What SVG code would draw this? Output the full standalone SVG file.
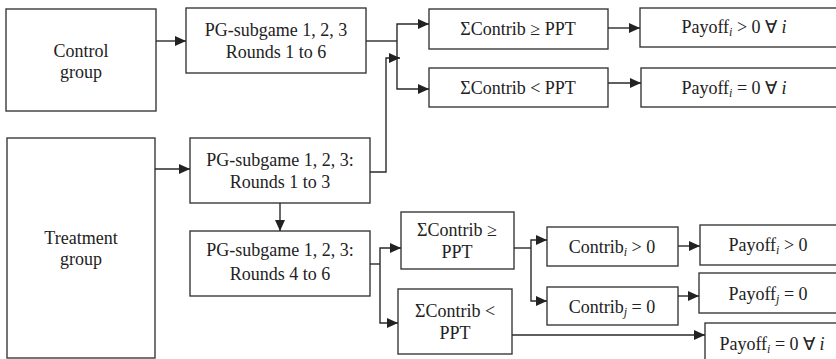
<svg xmlns="http://www.w3.org/2000/svg" width="836" height="359" viewBox="0 0 836 359">
<defs>
<marker id="arr" markerUnits="userSpaceOnUse" markerWidth="12" markerHeight="10" refX="11" refY="5" orient="auto">
<path d="M0,0 L11,5 L0,10 z" fill="#222"/>
</marker>
<style>
.box{fill:#fff;stroke:#3a3a3a;stroke-width:1.4}
.t{font-family:'Liberation Serif',serif;font-size:18px;fill:#222;text-anchor:middle}
.c{fill:none;stroke:#2a2a2a;stroke-width:1.4}
.s{font-size:12px;font-style:italic}
.i{font-style:italic}
</style>
</defs>
<rect width="836" height="359" fill="#fff"/>
<g id="control">
<rect class="box" x="6" y="9" width="150" height="102"/>
<text class="t" x="81" y="57">Control</text>
<text class="t" x="81" y="78">group</text>
</g>
<g id="treatment">
<rect class="box" x="7" y="138" width="148" height="220"/>
<text class="t" x="81" y="244">Treatment</text>
<text class="t" x="81" y="265">group</text>
</g>
<g id="pg-control">
<rect class="box" x="186" y="8" width="180" height="65"/>
<text class="t" x="276" y="36">PG-subgame 1, 2, 3</text>
<text class="t" x="276" y="58">Rounds 1 to 6</text>
</g>
<g id="pg-1-3">
<rect class="box" x="190" y="138" width="180" height="65"/>
<text class="t" x="280" y="166">PG-subgame 1, 2, 3:</text>
<text class="t" x="280" y="188">Rounds 1 to 3</text>
</g>
<g id="pg-4-6">
<rect class="box" x="190" y="231" width="180" height="65"/>
<text class="t" x="280" y="256">PG-subgame 1, 2, 3:</text>
<text class="t" x="280" y="280">Rounds 4 to 6</text>
</g>
<g id="sum-ge-top">
<rect class="box" x="429" y="9" width="179" height="40"/>
<text class="t" x="518" y="35">ΣContrib ≥ PPT</text>
</g>
<g id="sum-lt-top">
<rect class="box" x="429" y="68" width="179" height="39"/>
<text class="t" x="518" y="94">ΣContrib &lt; PPT</text>
</g>
<g id="payoff-gt-all">
<rect class="box" x="640" y="8" width="198" height="39"/>
<text class="t" x="734" y="33">Payoff<tspan class="s" dy="3">i</tspan><tspan dy="-3"> &gt; 0  ∀ </tspan><tspan class="i">i</tspan></text>
</g>
<g id="payoff-eq-all">
<rect class="box" x="641" y="68" width="197" height="39"/>
<text class="t" x="734" y="94">Payoff<tspan class="s" dy="3">i</tspan><tspan dy="-3"> = 0  ∀ </tspan><tspan class="i">i</tspan></text>
</g>
<g id="sum-ge-low">
<rect class="box" x="401" y="212" width="113" height="57"/>
<text class="t" x="457" y="236">ΣContrib ≥</text>
<text class="t" x="457" y="258">PPT</text>
</g>
<g id="sum-lt-low">
<rect class="box" x="398" y="289" width="114" height="65"/>
<text class="t" x="455" y="317">ΣContrib &lt;</text>
<text class="t" x="455" y="339">PPT</text>
</g>
<g id="contrib-i">
<rect class="box" x="547" y="227" width="131" height="39"/>
<text class="t" x="612" y="253">Contrib<tspan class="s" dy="3">i</tspan><tspan dy="-3"> &gt; 0</tspan></text>
</g>
<g id="contrib-j">
<rect class="box" x="547" y="287" width="131" height="38"/>
<text class="t" x="612" y="313">Contrib<tspan class="s" dy="3">j</tspan><tspan dy="-3"> = 0</tspan></text>
</g>
<g id="payoff-i-gt">
<rect class="box" x="700" y="225" width="140" height="40"/>
<text class="t" x="768" y="251">Payoff<tspan class="s" dy="3">i</tspan><tspan dy="-3"> &gt; 0</tspan></text>
</g>
<g id="payoff-j-eq">
<rect class="box" x="699" y="273" width="141" height="40"/>
<text class="t" x="768" y="300">Payoff<tspan class="s" dy="3">j</tspan><tspan dy="-3"> = 0</tspan></text>
</g>
<g id="payoff-eq-all-low">
<rect class="box" x="705" y="323" width="135" height="40"/>
<text class="t" x="772" y="350">Payoff<tspan class="s" dy="3">i</tspan><tspan dy="-3"> = 0 ∀ </tspan><tspan class="i">i</tspan></text>
</g>
<g id="connectors">
<path class="c" d="M156,41 H186" marker-end="url(#arr)"/>
<path class="c" d="M366,41 H397"/>
<path class="c" d="M397,41 V24 H429" marker-end="url(#arr)"/>
<path class="c" d="M397,41 V89 H429" marker-end="url(#arr)"/>
<path class="c" d="M155,169 H190" marker-end="url(#arr)"/>
<path class="c" d="M370,172 H386 V58 H400" marker-end="url(#arr)"/>
<path class="c" d="M280,203 V231" marker-end="url(#arr)"/>
<path class="c" d="M370,264 H380"/>
<path class="c" d="M380,264 V248 H401" marker-end="url(#arr)"/>
<path class="c" d="M380,264 V323 H398" marker-end="url(#arr)"/>
<path class="c" d="M608,28 H640" marker-end="url(#arr)"/>
<path class="c" d="M608,83 H641" marker-end="url(#arr)"/>
<path class="c" d="M514,248 H531"/>
<path class="c" d="M531,248 V240 H547" marker-end="url(#arr)"/>
<path class="c" d="M531,248 V301 H547" marker-end="url(#arr)"/>
<path class="c" d="M678,246 H700" marker-end="url(#arr)"/>
<path class="c" d="M678,296 H699" marker-end="url(#arr)"/>
<path class="c" d="M512,335 H705" marker-end="url(#arr)"/>
</g>
</svg>
